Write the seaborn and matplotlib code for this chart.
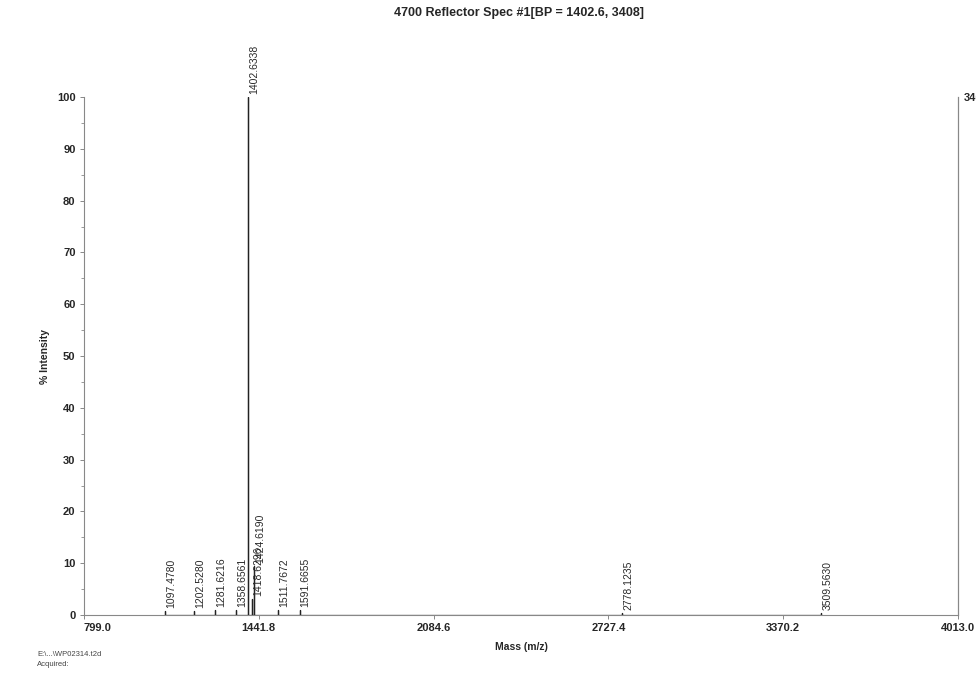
import pandas as pd
import matplotlib
matplotlib.use("Agg")
import matplotlib.pyplot as plt
import seaborn as sns

# peak list
masses = [1097.4780, 1202.5280, 1281.6216, 1358.6561, 1402.6338, 1418.6296,
          1424.6190, 1511.7672, 1591.6655, 2778.1235, 3509.5630]
intensity = [0.8, 0.7, 0.9, 1.0, 100.0, 3.0, 9.5, 1.0, 0.9, 0.4, 0.4]
labels = ["1097.4780", "1202.5280", "1281.6216", "1358.6561", "1402.6338", "1418.6296",
          "1424.6190", "1511.7672", "1591.6655", "2778.1235", "3509.5630"]
xticks = [799.0, 1441.8, 2084.6, 2727.4, 3370.2, 4013.0]
yticks = [0, 10, 20, 30, 40, 50, 60, 70, 80, 90, 100]
max_counts = 3408

sns.set_style("white")
plt.rcParams["font.family"] = ["Liberation Sans", "DejaVu Sans"]

# stick spectrum: each peak goes up from the baseline and back
rows = []
for m, h in zip(masses, intensity):
    rows += [(m, 0.0), (m, h), (m, 0.0)]
sticks = pd.DataFrame(rows, columns=["mass", "pct"])

fig = plt.figure(figsize=(9.76, 6.74), dpi=100)
ax = fig.add_axes([0.086, 0.0875, 0.8956, 0.7685])
sns.lineplot(data=sticks, x="mass", y="pct", sort=False, estimator=None,
             color="#222222", linewidth=0.9, ax=ax)

for m, h, lab in zip(masses, intensity, labels):
    ax.text(m + 4, h + 0.6, lab, rotation=90, ha="left", va="bottom",
            fontsize=7.5, color="#2a2a2a", clip_on=False)

ax.set_xlim(xticks[0], xticks[-1])
ax.set_ylim(0, 100)
ax.set_xticks(xticks)
ax.set_xticklabels([f"{t:.1f}" for t in xticks], fontsize=8, fontweight="bold")
ax.get_xticklabels()[0].set_ha("left")
ax.set_yticks(yticks)
ax.set_yticklabels([str(t) for t in yticks], fontsize=8, fontweight="bold")
ax.set_yticks(range(5, 100, 10), minor=True)
ax.tick_params(axis="both", which="major", direction="out", length=3, width=0.7,
               color="#888888", pad=3, left=True, bottom=True)
ax.tick_params(axis="y", which="minor", direction="out", length=2, width=0.6,
               color="#888888", left=True)
ax.set_xlabel("Mass (m/z)", fontsize=7.5, fontweight="bold", labelpad=6)
ax.set_ylabel("% Intensity", fontsize=7.5, fontweight="bold", labelpad=5)

for side in ["left", "bottom", "right"]:
    ax.spines[side].set_color("#888888")
    ax.spines[side].set_linewidth(0.8)
ax.spines["top"].set_visible(False)

# right-hand axis in raw counts
ax2 = ax.twinx()
ax2.set_ylim(0, max_counts)
ax2.set_yticks([max_counts])
ax2.set_yticklabels([str(max_counts)], fontsize=8, fontweight="bold")
ax2.tick_params(axis="y", length=0, pad=4)
for side in ["left", "bottom", "top"]:
    ax2.spines[side].set_visible(False)
ax2.spines["right"].set_color("#888888")
ax2.spines["right"].set_linewidth(0.8)

fig.suptitle("4700 Reflector Spec #1[BP = 1402.6, 3408]", fontsize=9,
             fontweight="bold", x=0.532, y=0.99)

fig.text(0.038, 0.027, "E:\\...\\WP02314.t2d", fontsize=5.5, color="#444444")
fig.text(0.038, 0.012, "Acquired:", fontsize=5.5, color="#444444")

fig.savefig("out.png", dpi=100)
